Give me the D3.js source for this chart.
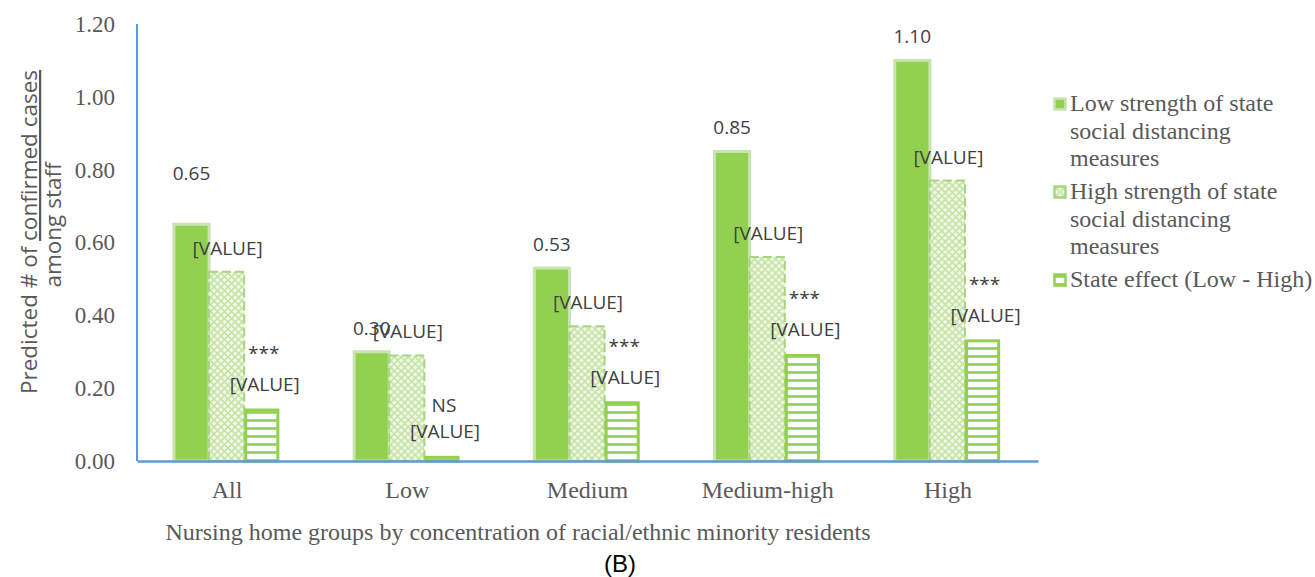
<!DOCTYPE html>
<html>
<head>
<meta charset="utf-8">
<script src="https://cdn.jsdelivr.net/npm/d3@7"></script>
<style>
  body { margin: 0; background: #fff; }
  svg { display: block; }
</style>
</head>
<body>
<svg width="1315" height="577"></svg>
<script>
// chart values
const groups = ["All", "Low", "Medium", "Medium-high", "High"];
const lowStrength = [0.65, 0.30, 0.53, 0.85, 1.10];
const highStrength = [0.52, 0.29, 0.37, 0.56, 0.77];
const stateEffect = [0.14, 0.01, 0.16, 0.29, 0.33];
const significance = ["***", "NS", "***", "***", "***"];
const yTicks = [0, 0.2, 0.4, 0.6, 0.8, 1.0, 1.2];
const seriesNames = ["low", "high", "state"];
const legendLines = [
  ["Low strength of state", "social distancing", "measures"],
  ["High strength of state", "social distancing", "measures"],
  ["State effect (Low - High)"]
];

const svg = d3.select("svg");
const serif = "'Liberation Serif', 'Times New Roman', serif";
const sans = "'Open Sans', 'Noto Sans', sans-serif";
const green = "#92d050";

const defs = svg.append("defs");

// cross hatch for the high strength bars
const cross = defs.append("pattern")
  .attr("id", "cross")
  .attr("patternUnits", "userSpaceOnUse")
  .attr("width", 7).attr("height", 7);
cross.append("rect").attr("width", 7).attr("height", 7).attr("fill", "#f0f8e8");
cross.append("path")
  .attr("d", "M0,0L7,7M7,0L0,7")
  .attr("stroke", "#c3e2a0")
  .attr("stroke-width", 1.5);

// horizontal lines for the state effect bars
const horiz = defs.append("pattern")
  .attr("id", "horiz")
  .attr("patternUnits", "userSpaceOnUse")
  .attr("width", 8).attr("height", 8);
horiz.append("rect").attr("width", 8).attr("height", 8).attr("fill", "#fff");
horiz.append("rect").attr("y", 3).attr("width", 8).attr("height", 3).attr("fill", "#b7df8a");
horiz.append("rect").attr("y", 3.5).attr("width", 8).attr("height", 1.8).attr("fill", green);

const x0 = d3.scaleBand()
  .domain(groups)
  .range([137, 1038]);

const x1 = d3.scaleBand()
  .domain(seriesNames)
  .range([x0.bandwidth() * 0.205, x0.bandwidth() * 0.79]);

const y = d3.scaleLinear()
  .domain([0, 1.2])
  .range([461, 24]);

const rows = groups.map((g, i) => ({
  group: g,
  low: lowStrength[i],
  high: highStrength[i],
  state: stateEffect[i],
  sig: significance[i]
}));

// y axis
const yAxis = svg.append("g")
  .attr("transform", "translate(137,0)")
  .call(d3.axisLeft(y).tickValues(yTicks).tickFormat(d3.format(".2f")).tickSize(0).tickPadding(22));
yAxis.select(".domain").remove();
yAxis.selectAll("text")
  .attr("font-family", serif)
  .attr("font-size", 23)
  .attr("fill", "#595959");

svg.append("line")
  .attr("x1", 137).attr("x2", 137)
  .attr("y1", y(1.2)).attr("y2", y(0))
  .attr("stroke", "#5b9bd5")
  .attr("stroke-width", 2);

// bars
const g = svg.append("g");
const grp = g.selectAll(".grp")
  .data(rows)
  .enter().append("g")
  .attr("class", "grp")
  .attr("transform", d => `translate(${x0(d.group)},0)`);

grp.append("rect")
  .attr("x", x1("low"))
  .attr("y", d => y(d.low))
  .attr("width", x1.bandwidth())
  .attr("height", d => y(0) - y(d.low))
  .attr("fill", green)
  .attr("stroke", "#c9e4b0")
  .attr("stroke-width", 3);

grp.append("rect")
  .attr("x", x1("high"))
  .attr("y", d => y(d.high))
  .attr("width", x1.bandwidth())
  .attr("height", d => y(0) - y(d.high))
  .attr("fill", "url(#cross)")
  .attr("stroke", "#a9d580")
  .attr("stroke-width", 2)
  .attr("stroke-dasharray", "9,4");

grp.append("rect")
  .attr("x", x1("state") + 1.5)
  .attr("y", d => y(d.state))
  .attr("width", x1.bandwidth() - 3)
  .attr("height", d => y(0) - y(d.state))
  .attr("fill", "url(#horiz)")
  .attr("stroke", green)
  .attr("stroke-width", 3);

// x axis
const xAxis = svg.append("g")
  .attr("transform", `translate(0,${y(0)})`)
  .call(d3.axisBottom(x0).tickSize(0).tickPadding(20));
xAxis.select(".domain")
  .attr("stroke", "#5b9bd5")
  .attr("stroke-width", 2.5);
xAxis.selectAll("text")
  .attr("font-family", serif)
  .attr("font-size", 24)
  .attr("fill", "#595959");

// data labels
const labels = svg.append("g")
  .attr("font-family", sans)
  .attr("font-size", 19)
  .attr("fill", "#404040")
  .attr("text-anchor", "middle");

labels.selectAll(".lowLab")
  .data(rows)
  .enter().append("text")
  .attr("x", d => x0(d.group) + x1("low") + x1.bandwidth() / 2)
  .attr("y", (d, i) => y(d.low) - 17 - (i === 0 ? 27 : 0))
  .text(d => d3.format(".2f")(d.low));

labels.selectAll(".highLab")
  .data(rows)
  .enter().append("text")
  .attr("x", d => x0(d.group) + x1("high") + x1.bandwidth() / 2 + 1)
  .attr("y", d => y(d.high) - 17)
  .text("[VALUE]");

labels.selectAll(".stateLab")
  .data(rows)
  .enter().append("text")
  .attr("x", d => x0(d.group) + x1("state") + x1.bandwidth() / 2 + 3)
  .attr("y", d => y(d.state) - 19)
  .text("[VALUE]");

labels.selectAll(".sigLab")
  .data(rows)
  .enter().append("text")
  .attr("x", d => x0(d.group) + x1("state") + x1.bandwidth() / 2 + 2)
  .attr("y", d => y(d.state) - (d.sig === "NS" ? 45 : 50))
  .text(d => d.sig);

// axis titles
const yTitle = svg.append("text")
  .attr("transform", "translate(37,232) rotate(-90)")
  .attr("text-anchor", "middle")
  .attr("font-family", sans)
  .attr("font-size", 22.5)
  .attr("fill", "#595959");
yTitle.append("tspan").text("Predicted # of ");
yTitle.append("tspan").attr("text-decoration", "underline").text("confirmed cases");

svg.append("text")
  .attr("transform", "translate(61,225) rotate(-90)")
  .attr("text-anchor", "middle")
  .attr("font-family", sans)
  .attr("font-size", 22.5)
  .attr("fill", "#595959")
  .text("among staff");

svg.append("text")
  .attr("x", 518).attr("y", 540)
  .attr("text-anchor", "middle")
  .attr("font-family", serif)
  .attr("font-size", 24)
  .attr("fill", "#595959")
  .text("Nursing home groups by concentration of racial/ethnic minority residents");

svg.append("text")
  .attr("x", 620).attr("y", 572)
  .attr("text-anchor", "middle")
  .attr("font-family", "'Liberation Sans', Arial, sans-serif")
  .attr("font-size", 24)
  .attr("fill", "#000")
  .text("(B)");

// legend
const legendTop = [104, 192, 280];
const legend = svg.append("g")
  .attr("font-family", serif)
  .attr("font-size", 24)
  .attr("fill", "#595959");

const item = legend.selectAll(".item")
  .data(legendLines)
  .enter().append("g")
  .attr("transform", (d, i) => `translate(1053,${legendTop[i]})`);

item.append("rect")
  .attr("x", 1.5).attr("y", -5.5)
  .attr("width", 11).attr("height", 11)
  .attr("fill", (d, i) => ["#92d050", "url(#cross)", "url(#horiz)"][i])
  .attr("stroke", (d, i) => ["#c9e4b0", "#a9d580", green][i])
  .attr("stroke-width", 2.5);

item.append("text")
  .attr("x", 17)
  .attr("y", 7)
  .selectAll("tspan")
  .data(d => d)
  .enter().append("tspan")
  .attr("x", 17)
  .attr("dy", (d, i) => i === 0 ? 0 : 27.6)
  .text(d => d);
</script>
</body>
</html>
